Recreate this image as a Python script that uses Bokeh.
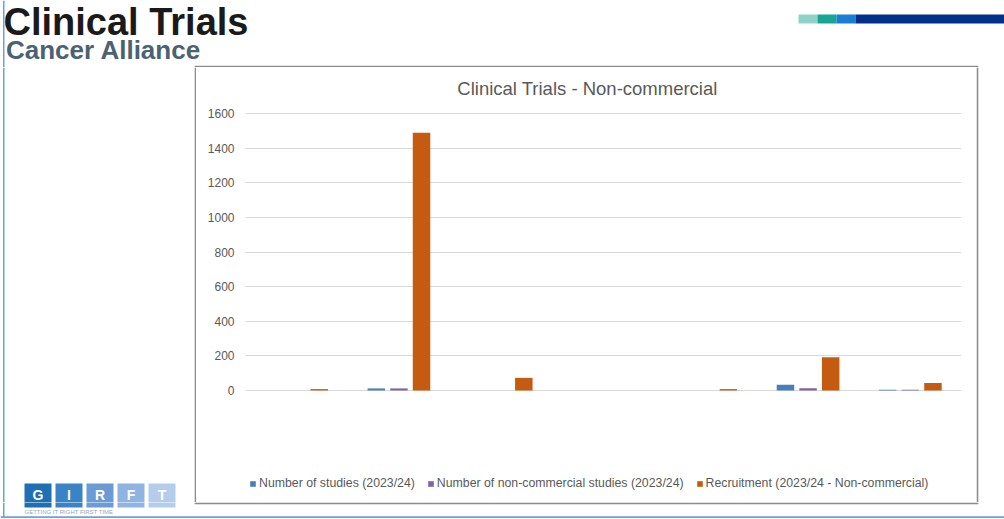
from bokeh.plotting import figure
from bokeh.layouts import row, column
from bokeh.models import (FactorRange, Range1d, Label, Legend, LegendItem,
                          ColumnDataSource, FixedTicker)
from bokeh.transform import dodge
from bokeh.core.properties import value
from bokeh.embed import file_html
from bokeh.resources import INLINE

# ---------------- data ----------------
categories = ["Site 1", "Site 2", "Site 3", "Site 4", "Site 5", "Site 6", "Site 7"]
number_of_studies = [0, 12, 0, 0, 0, 33, 5]
number_non_commercial = [0, 12, 0, 0, 0, 13, 5]
recruitment = [8, 1489, 73, 0, 8, 192, 44]
series_labels = ["Number of studies (2023/24)",
                 "Number of non-commercial studies (2023/24)",
                 "Recruitment (2023/24 - Non-commercial)"]
series_colors = ["#4a7ebb", "#7f62a8", "#c55a11"]
y_ticks = [0, 200, 400, 600, 800, 1000, 1200, 1400, 1600]
slide_title = "Clinical Trials"
slide_subtitle = "Cancer Alliance"
chart_title = "Clinical Trials - Non-commercial"
logo_letters = ["G", "I", "R", "F", "T"]
logo_colors = ["#1f6fb4", "#3a84c6", "#6a9bd4", "#8fb4e1", "#b4cdec"]
logo_tagline = "GETTING IT RIGHT FIRST TIME"
deco_colors = ["#8ed3c8", "#17a596", "#1a7fd4", "#00308a"]

# ---------------- layout (page pixels) ----------------
PAGE_W, PAGE_H = 1004, 519
BOX_L, BOX_R, BOX_T, BOX_B = 196, 976, 67, 502      # chart box
PLOT_L, PLOT_R = 245, 961                            # plot area
Y0_PX, YMAX_PX, YMAX = 390, 113, 1600                # value axis placement
LOGO_T, LOGO_B = 483, 507

FONT = "Liberation Sans"
GRAY = "#595959"
BORDER = "#8c8c8c"
FRAME_BLUE = "#6aa2da"


def deco_fig(x0, x1, y0, y1):
    f = figure(width=x1 - x0, height=y1 - y0, x_range=Range1d(x0, x1),
               y_range=Range1d(y1, y0), output_backend="svg",
               toolbar_location=None, min_border=0)
    f.axis.visible = False
    f.grid.visible = False
    f.outline_line_color = None
    f.background_fill_color = "white"
    f.border_fill_color = "white"
    return f


def rect(f, l, r, t, b, color):
    f.quad(left=[l], right=[r], top=[t], bottom=[b], fill_color=color, line_color=None)


# ---- header ----
header = deco_fig(0, PAGE_W, 0, BOX_T)
header.text(x=[3], y=[21], text=[slide_title], text_font=value(FONT),
            text_font_size="38px", text_font_style="bold", text_color="#1a1a1a",
            text_baseline="middle", text_align="left")
header.text(x=[5.5], y=[49], text=[slide_subtitle], text_font=value(FONT),
            text_font_size="26px", text_font_style="bold", text_color="#4b6272",
            text_baseline="middle", text_align="left")
deco_edges = [798, 817, 836, 855, 1004]
for i, c in enumerate(deco_colors):
    rect(header, deco_edges[i], deco_edges[i + 1], 14, 23, c)
rect(header, 2.5, 4, 0, BOX_T, FRAME_BLUE)
rect(header, BOX_L - 1.8, BOX_R + 1.8, BOX_T - 1.8, BOX_T, BORDER)

# ---- left side ----
left = deco_fig(0, BOX_L, BOX_T, BOX_B)
rect(left, 2.5, 4, BOX_T, BOX_B, FRAME_BLUE)
rect(left, BOX_L - 1.8, BOX_L, BOX_T, BOX_B, BORDER)
for i, (ch, c) in enumerate(zip(logo_letters, logo_colors)):
    x0 = 24 + 31 * i
    rect(left, x0, x0 + 27, LOGO_T, LOGO_B + 2, c)
    left.text(x=[x0 + 13.5], y=[494.5], text=[ch], text_font=value(FONT),
              text_font_size="14px", text_font_style="bold", text_color="white",
              text_align="center", text_baseline="middle")

# ---- right side ----
right = deco_fig(BOX_R, PAGE_W, BOX_T, BOX_B)
rect(right, BOX_R, BOX_R + 1.8, BOX_T, BOX_B, BORDER)

# ---- bottom strip ----
bottom = deco_fig(0, PAGE_W, BOX_B, PAGE_H)
rect(bottom, BOX_L - 1.8, BOX_R + 1.8, BOX_B, BOX_B + 1.8, BORDER)
rect(bottom, 0, PAGE_W, 515.8, 517.5, FRAME_BLUE)
rect(bottom, 2.5, 4, BOX_B, 517.5, FRAME_BLUE)
for i, c in enumerate(logo_colors):
    x0 = 24 + 31 * i
    rect(bottom, x0, x0 + 27, LOGO_T, LOGO_B, c)
bottom.text(x=[24], y=[511.5], text=[logo_tagline], text_font=value(FONT),
            text_font_size="6px", text_color="#9aa5b1", text_baseline="middle",
            text_align="left")

# ---- chart ----
ppu = (Y0_PX - YMAX_PX) / YMAX
y_start = -(BOX_B - Y0_PX) / ppu
y_end = (Y0_PX - BOX_T) / ppu

source = ColumnDataSource(dict(cat=categories, s1=number_of_studies,
                               s2=number_non_commercial, s3=recruitment))

p = figure(width=BOX_R - BOX_L, height=BOX_B - BOX_T, x_range=FactorRange(*categories),
           y_range=Range1d(y_start, y_end), output_backend="svg", toolbar_location=None,
           min_border_left=PLOT_L - BOX_L, min_border_right=BOX_R - PLOT_R,
           min_border_top=0, min_border_bottom=0)
p.extra_y_ranges = {"py": Range1d(BOX_B, BOX_T)}
p.outline_line_color = None
p.background_fill_color = "white"
p.border_fill_color = "white"
p.xaxis.visible = False
p.xgrid.visible = False
p.ygrid.grid_line_color = "#d9d9d9"
p.ygrid.grid_line_width = 1
p.yaxis.ticker = FixedTicker(ticks=y_ticks)
p.yaxis.axis_line_color = None
p.yaxis.major_tick_line_color = None
p.yaxis.minor_tick_line_color = None
p.yaxis.major_tick_out = 0
p.yaxis.major_tick_in = 0
p.yaxis.major_label_standoff = 11
p.yaxis.major_label_text_font = FONT
p.yaxis.major_label_text_font_size = "12px"
p.yaxis.major_label_text_color = GRAY

offsets = [-0.221, 0.0, 0.221]
renderers = []
for col, off, color in zip(["s1", "s2", "s3"], offsets, series_colors):
    r = p.vbar(x=dodge("cat", off, range=p.x_range), top=col, width=0.171,
               source=source, fill_color=color, line_color=None)
    renderers.append(r)

legend = Legend(items=[LegendItem(label=lbl, renderers=[r])
                       for lbl, r in zip(series_labels, renderers)],
                orientation="horizontal", location=(4, 12),
                glyph_width=7, glyph_height=7, label_standoff=3, spacing=12,
                padding=0, margin=0, border_line_color=None,
                background_fill_alpha=0,
                label_text_font=FONT, label_text_font_size="12.3px",
                label_text_color=GRAY)
p.add_layout(legend)

p.add_layout(Label(x=587 - PLOT_L, y=88, x_units="screen", y_range_name="py",
                   text=chart_title, text_align="center", text_baseline="middle",
                   text_font=FONT, text_font_size="18.5px", text_color=GRAY))

layout = column(header, row(left, p, right), bottom)

open("out.html", "w").write(file_html(layout, INLINE))
